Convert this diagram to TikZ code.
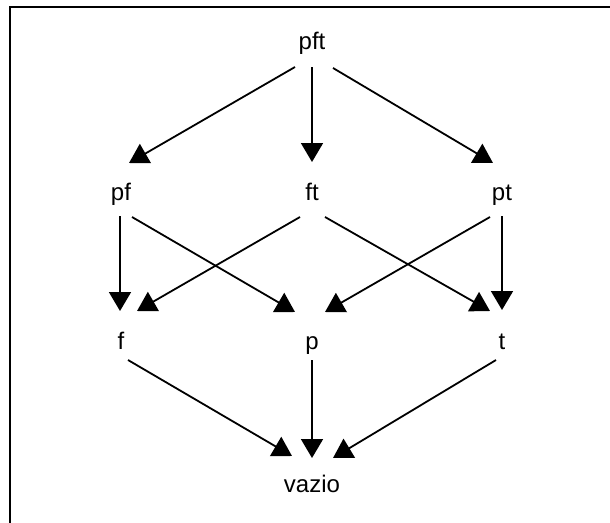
\documentclass[tikz,border=0pt]{standalone}
\usepackage{fontspec}
\setmainfont{Liberation Sans}
\usetikzlibrary{arrows.meta}
\begin{document}
\begin{tikzpicture}[x=1pt,y=-1pt,
  lbl/.style={inner sep=0pt, anchor=base, font=\fontsize{24}{28}\selectfont},
  link/.style={line width=1.8pt, -{Triangle[length=19pt,width=22pt]}},
  frame/.style={line width=2pt}]
\useasboundingbox (0,0) rectangle (610,522);
% frame: only the top and left edges fall inside the page
\coordinate (frameTop) at (612,7);
\coordinate (frameCorner) at (10,7);
\coordinate (frameBottom) at (10,524);
\draw[frame] (frameTop) -- (frameCorner) -- (frameBottom);

% lattice of subsets
\node[lbl] (pft) at (312,49) {pft};
\node[lbl] (pf) at (121,200) {pf};
\node[lbl] (ft) at (312,200) {ft};
\node[lbl] (pt) at (502,200) {pt};
\node[lbl] (f) at (121,349) {f};
\node[lbl] (p) at (312,349) {p};
\node[lbl] (t) at (502,349) {t};
\node[lbl] (vazio) at (312,492) {vazio};

% top level
\draw[link] ([shift={(-17,18)}]pft.base) -- ([shift={(8,-37)}]pf.base);
\draw[link] ([shift={(0,18)}]pft.base) -- ([shift={(0,-38)}]ft.base);
\draw[link] ([shift={(21,19)}]pft.base) -- ([shift={(-9,-37)}]pt.base);

% middle level
\draw[link] ([shift={(-1,16)}]pf.base) -- ([shift={(-1,-38)}]f.base);
\draw[link] ([shift={(11,17)}]pf.base) -- ([shift={(-17,-37)}]p.base);
\draw[link] ([shift={(-12,17)}]ft.base) -- ([shift={(16,-38)}]f.base);
\draw[link] ([shift={(13,17)}]ft.base) -- ([shift={(-12,-38)}]t.base);
\draw[link] ([shift={(-12,17)}]pt.base) -- ([shift={(13,-37)}]p.base);
\draw[link] ([shift={(0,16)}]pt.base) -- ([shift={(0,-39)}]t.base);

% bottom level
\draw[link] ([shift={(7,11)}]f.base) -- ([shift={(-20,-36)}]vazio.base);
\draw[link] ([shift={(0,11)}]p.base) -- ([shift={(0,-34)}]vazio.base);
\draw[link] ([shift={(-6,11)}]t.base) -- ([shift={(21,-34)}]vazio.base);
\end{tikzpicture}
\end{document}
